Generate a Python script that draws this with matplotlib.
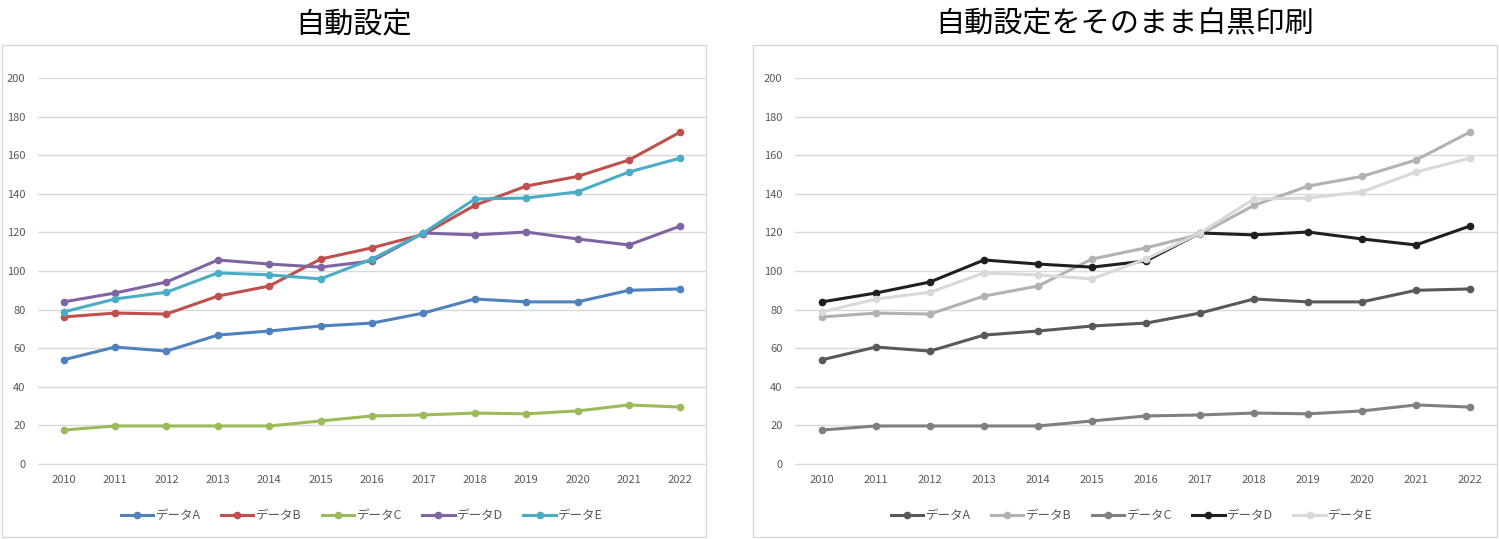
import matplotlib.pyplot as plt
from matplotlib.patches import Rectangle

plt.rcParams['font.family'] = ['Noto Sans CJK JP', 'DejaVu Sans']

years = [2010, 2011, 2012, 2013, 2014, 2015, 2016, 2017, 2018, 2019, 2020, 2021, 2022]
labels = ['データA', 'データB', 'データC', 'データD', 'データE']
data_a = [54, 60.6, 58.5, 66.8, 68.9, 71.5, 73, 78.2, 85.5, 84, 84, 90, 90.7]
data_b = [76.2, 78.2, 77.7, 87, 92.2, 106.2, 112, 119, 134, 144, 149, 157.5, 172]
data_c = [17.6, 19.7, 19.7, 19.7, 19.7, 22.3, 24.9, 25.4, 26.4, 26, 27.5, 30.6, 29.5]
data_d = [84, 88.6, 94.3, 105.7, 103.6, 102, 105.2, 119.7, 118.7, 120.2, 116.6, 113.5, 123.3]
data_e = [78.8, 85.5, 89, 99, 98, 95.9, 106.2, 119.7, 137.3, 137.8, 141, 151.3, 158.5]
series = [data_a, data_b, data_c, data_d, data_e]

colors_auto = ['#4F81BD', '#C0504D', '#9BBB59', '#8064A2', '#4BACC6']
colors_gray = ['#595959', '#B2B2B2', '#808080', '#1F1F1F', '#D9D9D9']

W, H = 1499, 539
fig = plt.figure(figsize=(W / 100, H / 100), dpi=100)


def px(x0, y0, x1, y1):
    # pixel box (top-left origin) -> figure fraction rect
    return [x0 / W, 1 - y1 / H, (x1 - x0) / W, (y1 - y0) / H]


def draw_chart(box, plot, title, colors, label_x):
    fig.patches.append(Rectangle((box[0] / W, 1 - box[3] / H), (box[2] - box[0]) / W,
                                 (box[3] - box[1]) / H, transform=fig.transFigure,
                                 fill=False, edgecolor='#D9D9D9', linewidth=1))
    fig.text((box[0] + box[2]) / 2 / W, 1 - 24 / H, title, ha='center', va='center',
             fontsize=21, color='black')
    ax = fig.add_axes(px(*plot))
    x = list(range(len(years)))
    for vals, c, lab in zip(series, colors, labels):
        ax.plot(x, vals, color=c, linewidth=2.2, marker='o', markersize=4.5, label=lab)
    ax.set_xlim(-0.5, len(years) - 0.5)
    ax.set_ylim(0, 200)
    ax.set_yticks(range(0, 201, 20))
    ax.set_xticks(x)
    ax.set_xticklabels([str(y) for y in years])
    ax.grid(axis='y', color='#D9D9D9', linewidth=1)
    ax.set_axisbelow(True)
    for s in ['top', 'right', 'left']:
        ax.spines[s].set_visible(False)
    ax.spines['bottom'].set_color('#D9D9D9')
    ax.tick_params(length=0, labelsize=8, labelcolor='#595959')
    ax.tick_params(axis='y', pad=9)
    ax.tick_params(axis='x', pad=8)
    leg = ax.legend(loc='center', bbox_to_anchor=(label_x, 1 - 516 / H),
                    bbox_transform=fig.transFigure, ncol=5, frameon=False,
                    fontsize=9, handlelength=2.6, columnspacing=1.6, handletextpad=0.2)
    for t in leg.get_texts():
        t.set_color('#595959')
    return ax


draw_chart((2, 45, 706, 537), (38, 78, 706, 464), '自動設定', colors_auto, 362 / W)
draw_chart((753, 45, 1497, 537), (795, 78, 1497, 464), '自動設定をそのまま白黒印刷', colors_gray, 1132 / W)

fig.savefig('out.png', dpi=100, facecolor='white')
